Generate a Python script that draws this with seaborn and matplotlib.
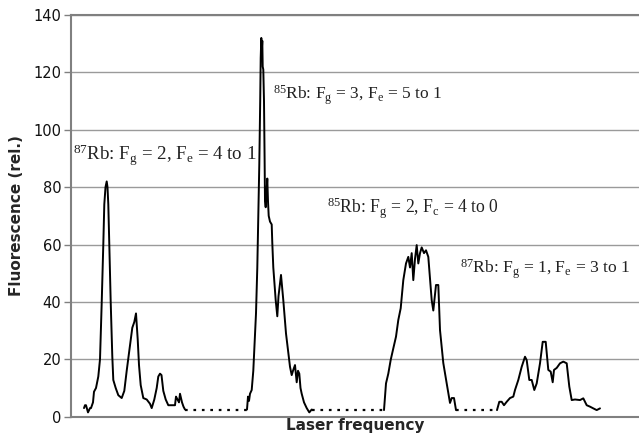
import matplotlib
matplotlib.use('Agg')
import matplotlib.pyplot as plt
import seaborn as sns
import numpy as np
import pandas as pd

# Rb fluorescence spectrum: laser frequency in arbitrary units, fluorescence rel.
# 87Rb Fg=2 group
x_87a = [84, 85, 86, 88, 90, 91, 93, 94, 96, 98.3, 100, 101.7, 103.3, 104.3, 105.5, 106.7,
         107.5, 108.3, 109.3, 110.7, 112.3, 113.3, 115.7, 118.3, 120, 121.7, 124.3, 126.7,
         129.3, 132.3, 134.3, 136, 137.7, 139, 140.7, 143.3, 146.7, 150, 151.7, 154.3, 156.7,
         158.3, 160, 161.5, 163.3, 165.7, 168.3, 173, 175, 176, 177.5, 179, 180, 182, 183.5, 185]
y_87a = [3, 4, 4, 1.5, 3, 3, 5, 8.7, 10, 14, 20, 39.6, 60, 74, 80, 82,
         80, 74, 60, 40, 21, 12.8, 10, 7.5, 7, 6.5, 9, 16,
         23, 31, 33, 36, 27, 18, 11, 6.5, 6, 4.5, 3, 6, 10,
         14, 15, 14.5, 9, 6, 4, 4, 4, 7, 6, 5, 8, 5, 3.5, 2.5]

# 85Rb Fg=3 group
x_85a = [247, 248, 249, 250, 251.7, 253.3, 256, 257.3, 258.3, 259.3, 260.2, 260.7, 261.3,
         261.7, 262.3, 262.7, 263.3, 264, 264.6, 265, 265.7, 266.5, 267.3, 268, 268.7, 270,
         271.7, 272.3, 273.3, 275.7, 277.3, 278.5, 281, 283.3, 286, 290, 291.7, 293, 295,
         296.7, 298, 299.3, 300.5, 301.7, 304, 306.7, 309.3, 311.7]
y_85a = [2.5, 7, 5.5, 8, 9.3, 16, 36, 52, 70, 88, 110, 125, 132,
         127, 131, 122, 121, 110, 90, 75, 73, 78, 83, 75, 70, 68,
         67, 60.5, 52, 40.6, 35, 42, 49.4, 40.6, 29, 17.4, 14.5, 16, 18,
         12, 16, 15, 10, 8, 5, 3, 1.5, 2.5]

# 85Rb Fg=2 group
x_85b = [384, 386, 388.3, 390.7, 393.3, 396, 398.3, 400.7, 403.3, 406, 408.3, 410, 411.7,
         413.3, 415, 416.7, 418.3, 420, 421.7, 424, 426, 428.3, 431.7, 433.3, 436, 438.3,
         440, 443.3, 446.7, 450, 451.7, 454, 456]
y_85b = [2.3, 11.6, 15, 19.8, 23.8, 27.9, 33.7, 37.8, 47.6, 53.4, 55.7, 52, 57,
         47.6, 55, 59.8, 53.4, 57, 59, 57, 58, 55.7, 40.6, 37, 45.9, 45.9,
         30.2, 18.7, 11.6, 4.8, 6.5, 6.5, 2.3]

# 87Rb Fg=1 group
x_87b = [497, 499.3, 501.7, 504, 506.7, 510, 513.3, 515, 518.3, 521.7, 525, 526.7, 529.3,
         531.7, 534.3, 536.7, 540, 542.7, 545.7, 548.3, 550.7, 552.7, 554, 556.7, 560, 563.3,
         566.7, 569.3, 571.7, 575, 580, 583.3, 586.7, 590, 593.3, 596.7, 600]
y_87b = [2.3, 5.2, 5.2, 4, 5.2, 6.5, 7, 9.3, 12.8, 17.4, 20.9, 19.7, 12.8,
         12.8, 9.3, 11.6, 18.6, 26.1, 26.1, 16.3, 15.7, 12, 16.3, 17, 18.6, 19.2,
         18.6, 10.5, 5.8, 6, 5.8, 6.4, 4, 3.5, 2.9, 2.3, 2.9]

# gaps (not scanned) drawn dotted
gap_x = [[185, 247], [311.7, 384], [456, 497]]
gap_y = [[2.5, 2.5], [2.5, 2.5], [2.3, 2.3]]

labels = [r'$^{87}$Rb: F$_{g}$ = 2, F$_{e}$ = 4 to 1',
          r'$^{85}$Rb: F$_{g}$ = 3, F$_{e}$ = 5 to 1',
          r'$^{85}$Rb: F$_{g}$ = 2, F$_{c}$ = 4 to 0',
          r'$^{87}$Rb: F$_{g}$ = 1, F$_{e}$ = 3 to 1']
label_x = [73, 273, 327, 460]
label_y = [89.4, 110.6, 70.9, 50]
label_size = [13.6, 12.5, 12.7, 12.6]

sns.set_style('white')
plt.rcParams['font.family'] = ['DejaVu Sans']
plt.rcParams['mathtext.fontset'] = 'custom'
plt.rcParams['mathtext.rm'] = 'Liberation Serif'
plt.rcParams['mathtext.default'] = 'regular'

fig = plt.figure(figsize=(6.39, 4.38), dpi=100)
ax = fig.add_axes([71 / 639, 1 - 416.7 / 438, 1 - 71 / 639, (416.7 - 15) / 438])

for xs, ys in [(x_87a, y_87a), (x_85a, y_85a), (x_85b, y_85b), (x_87b, y_87b)]:
    sns.lineplot(x=xs, y=ys, ax=ax, color='black', lw=1.4, sort=False, estimator=None)
for xs, ys in zip(gap_x, gap_y):
    sns.lineplot(x=xs, y=ys, ax=ax, color='black', lw=1.6, sort=False, estimator=None,
                 dashes=False, linestyle=(0, (1.2, 2.6)))

for t, tx, ty, fs in zip(labels, label_x, label_y, label_size):
    ax.text(tx, ty, t, fontsize=fs, family='Liberation Serif', va='baseline', ha='left',
            color='#222222')

ax.set_xlim(71, 639)
ax.set_ylim(0, 140)
ax.set_yticks(np.arange(0, 141, 20))
ax.set_xticks([])
ax.yaxis.grid(True, color='#9a9a9a', lw=1)
ax.set_axisbelow(True)
for s in ['left', 'bottom', 'top']:
    ax.spines[s].set_color('#808080')
    ax.spines[s].set_linewidth(1.5)
ax.spines['right'].set_visible(False)
ax.tick_params(axis='y', left=True, length=5, width=1, color='#808080',
               labelsize=10.5, labelcolor='#111111', pad=2)
ax.set_ylabel('Fluorescence (rel.)', fontsize=11, fontweight='bold', labelpad=7)
ax.set_xlabel('Laser frequency', fontsize=11, fontweight='bold', labelpad=1)

fig.savefig('out.png', dpi=100)
